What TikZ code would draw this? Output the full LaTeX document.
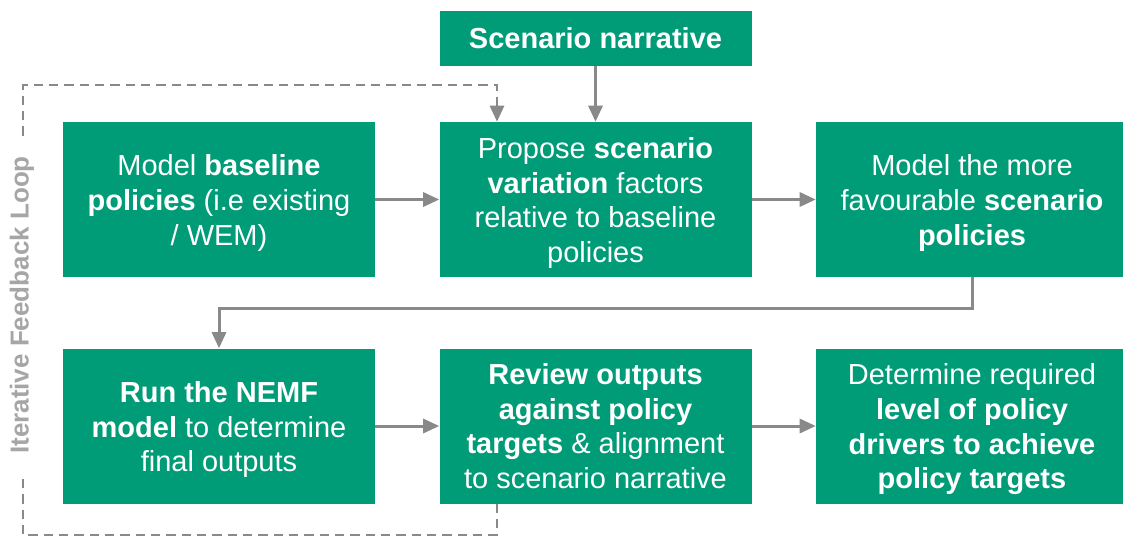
\documentclass[tikz,border=0pt]{standalone}
\usepackage{fontspec}
\setmainfont{Liberation Sans}
\usetikzlibrary{arrows.meta}
\definecolor{stage}{RGB}{0,155,119}
\definecolor{link}{RGB}{137,137,137}
\definecolor{feedback}{RGB}{166,166,166}
\newcommand{\pad}{\rule{0pt}{21pt}}
\tikzstyle{box}=[fill=stage, text=white, align=center, inner sep=0pt, minimum width=234pt, minimum height=116.25pt, font=\fontsize{21.75}{26}\selectfont]
\tikzset{flow/.style={-{Triangle[length=12pt,width=10.5pt]}, line width=2.25pt, color=link}}
\tikzset{iterate/.style={-{Triangle[length=12pt,width=10.5pt]}, line width=2pt, color=link, dash pattern=on 7pt off 4.5pt}}

\begin{document}
\begin{tikzpicture}[x=0.75pt,y=-0.75pt]
  \useasboundingbox (0,0) rectangle (1123,537);
  \draw (595.5,38.5) node[box,minimum height=41.25pt] (N) {\textbf{Scenario narrative}};

  \draw (219,199.5) node[box] (B1) {\pad Model \textbf{baseline}\\\textbf{policies} (i.e existing\\/ WEM)};
  \draw (595.5,199.5) node[box] (B2) {\pad Propose \textbf{scenario}\\\textbf{variation} factors\\relative to baseline\\policies};
  \draw (972,199.5) node[box] (B3) {\pad Model the more\\favourable \textbf{scenario}\\\textbf{policies}};

  \draw (219,426) node[box] (B4) {\pad\textbf{Run the NEMF}\\\textbf{model} to determine\\final outputs};
  \draw (595.5,426) node[box] (B5) {\textbf{Review outputs}\\\textbf{against policy}\\\textbf{targets} \& alignment\\to scenario narrative};
  \draw (972,426) node[box] (B6) {\pad Determine required\\\textbf{level of policy}\\\textbf{drivers to achieve}\\\textbf{policy targets}};

  \draw[flow] (N) -- (B2);
  \draw[flow] (B1) -- (B2);
  \draw[flow] (B2) -- (B3);
  \draw[flow] (B3.south) -- (B3.south |- 0,308) -| (B4.north);
  \draw[flow] (B4) -- (B5);
  \draw[flow] (B5) -- (B6);

  %% Feedback loop
  \coordinate (L1) at (497,535);
  \coordinate (L2) at (23,85);
  \draw[iterate] (B5.south -| L1) -- (L1) -| (L2) -| (B2.north -| L1);
  \draw (22,305) node[rotate=90, fill=white, inner xsep=14pt, text=feedback, font=\fontsize{19.5}{23}\selectfont\bfseries] (F) {Iterative Feedback Loop};
\end{tikzpicture}
\end{document}
